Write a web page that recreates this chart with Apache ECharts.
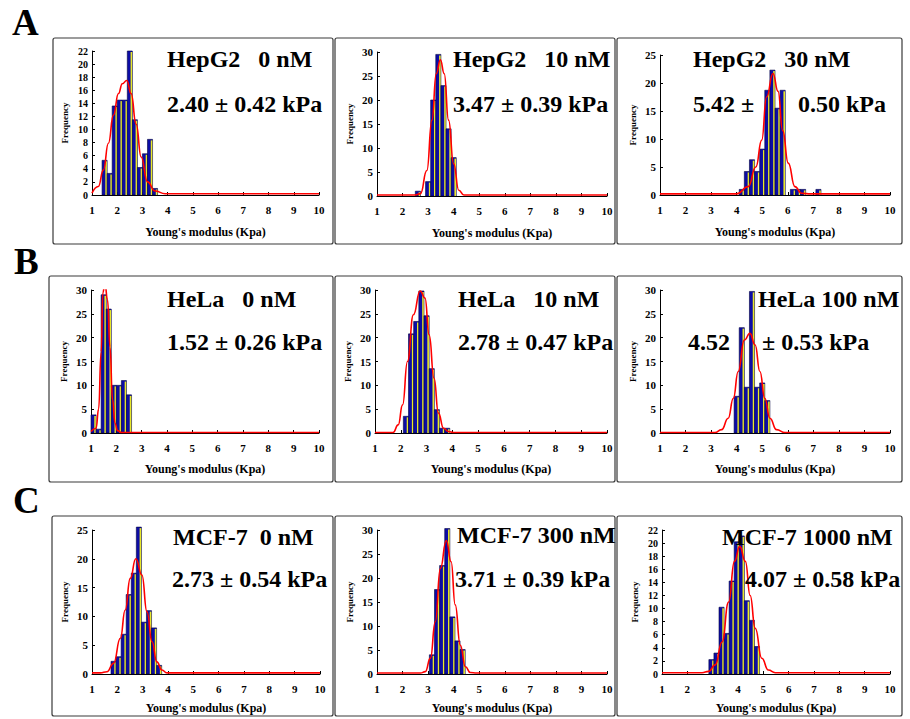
<!DOCTYPE html>
<html>
<head>
<meta charset="utf-8">
<script src="https://cdn.jsdelivr.net/npm/echarts@6/dist/echarts.min.js"></script>
<style>
  html, body { margin: 0; padding: 0; background: #fff; }
  #chart { width: 910px; height: 719px; }
</style>
</head>
<body>
<div id="chart"></div>
<script>
// ---------------- DATA ----------------
const panelTitles = ["HepG2   0 nM", "HepG2   10 nM", "HepG2   30 nM",
                     "HeLa   0 nM", "HeLa   10 nM", "HeLa 100 nM",
                     "MCF-7  0 nM", "MCF-7 300 nM", "MCF-7 1000 nM"];
const rowLetters = ["A", "B", "C"];
const xAxisTitle = "Young's modulus (Kpa)";
const yAxisTitle = "Frequency";
const yMax = [22, 30, 25, 30, 30, 30, 25, 30, 22];
const yStep = [2, 5, 5, 5, 5, 5, 5, 5, 2];

// HepG2 0 nM
const bins1 = [1.5, 1.7, 1.9, 2.1, 2.3, 2.5, 2.7, 2.9, 3.1, 3.3, 3.5];
const counts1 = [5.3, 3.3, 13.6, 14.5, 14.5, 22, 11.5, 4.2, 6.3, 8.5, 1];
const fitX1 = [1.0, 1.25, 1.45, 1.65, 1.85, 2.05, 2.2, 2.38, 2.55, 2.75, 2.95, 3.2, 3.5, 3.9, 4.5, 10];
const fitY1 = [0.3, 1.3, 3.8, 7.9, 12.2, 15.5, 17, 17.5, 15.5, 10.8, 5.8, 2.0, 0.6, 0.2, 0.2, 0.2];
// HepG2 10 nM
const bins2 = [2.6, 3.0, 3.2, 3.4, 3.6, 3.8, 4.0];
const counts2 = [1, 3, 20, 29.5, 23, 14, 8];
const fitX2 = [1, 2.5, 2.7, 2.95, 3.15, 3.32, 3.48, 3.63, 3.8, 4.0, 4.2, 4.4, 10];
const fitY2 = [0.2, 0.2, 0.5, 5.3, 15.8, 25.5, 28.4, 25.5, 15.8, 6.7, 1.2, 0.2, 0.2];
// HepG2 30 nM
const bins3 = [4.2, 4.4, 4.6, 4.8, 5.0, 5.2, 5.4, 5.6, 5.8, 6.2, 6.4, 6.6, 7.2];
const counts3 = [1, 4.2, 6.3, 4.2, 8.2, 18.7, 22.3, 15.5, 18.7, 1, 1, 1, 1];
const fitX3 = [1, 4.0, 4.45, 4.75, 4.98, 5.17, 5.42, 5.62, 5.8, 6.02, 6.28, 6.54, 6.9, 10];
const fitY3 = [0.2, 0.2, 1.5, 5, 9.8, 17.5, 21.7, 18.5, 11.5, 5.7, 1.5, 0.3, 0.2, 0.2];
// HeLa 0 nM
const bins4 = [1.1, 1.3, 1.5, 1.7, 1.9, 2.1, 2.3, 2.5];
const counts4 = [3.8, 0.8, 29, 26, 10, 10, 11, 8];
const fitX4 = [1.0, 1.2, 1.3, 1.4, 1.47, 1.55, 1.65, 1.75, 1.85, 1.95, 2.05, 2.2, 10];
const fitY4 = [0.3, 1, 5, 17, 29.5, 31.4, 28, 18, 7, 2, 0.5, 0.1, 0.1];
// HeLa 10 nM
const bins5 = [2.2, 2.4, 2.6, 2.8, 3.0, 3.2, 3.4, 3.6, 3.8];
const counts5 = [3.5, 20.8, 23.4, 29.8, 24.6, 13.5, 4.9, 1, 1];
const fitX5 = [1, 1.7, 1.9, 2.07, 2.26, 2.49, 2.75, 2.94, 3.1, 3.29, 3.46, 3.66, 3.85, 4.05, 10];
const fitY5 = [0.1, 0.1, 1.7, 5.9, 15, 24.8, 29.8, 28.3, 20.6, 11.5, 4.2, 1, 0.3, 0.1, 0.1];
// HeLa 100 nM
const bins6 = [4.0, 4.2, 4.4, 4.6, 4.8, 5.0, 5.2];
const counts6 = [7.7, 22.1, 9.6, 29.7, 9.6, 10.5, 6.8];
const fitX6 = [1, 3.15, 3.41, 3.67, 3.87, 4.06, 4.3, 4.52, 4.72, 4.91, 5.1, 5.3, 5.56, 5.89, 10];
const fitY6 = [0.1, 0.1, 0.7, 3.1, 7.3, 12.9, 19.5, 20.9, 18.5, 12.9, 7.3, 3.1, 0.7, 0.1, 0.1];
// MCF-7 0 nM
const bins7 = [1.85, 2.05, 2.25, 2.45, 2.65, 2.85, 3.05, 3.25, 3.45, 3.65];
const counts7 = [2.2, 3, 6.9, 13.8, 17.5, 25.5, 9, 11, 8, 1.5];
const fitX7 = [1, 1.33, 1.59, 1.85, 2.12, 2.31, 2.51, 2.73, 2.97, 3.17, 3.37, 3.56, 3.76, 3.96, 10];
const fitY7 = [0.2, 0.2, 0.4, 1.85, 6.2, 11.1, 16.6, 20, 17.2, 10.8, 5.6, 2.1, 0.7, 0.2, 0.2];
// MCF-7 300 nM
const bins8 = [3.15, 3.35, 3.55, 3.75, 3.95, 4.15, 4.35];
const counts8 = [4, 17.6, 22.6, 30.3, 11.9, 6.9, 5.1];
const fitX8 = [1, 2.7, 2.89, 3.09, 3.28, 3.48, 3.71, 3.9, 4.06, 4.26, 4.46, 4.65, 4.9, 10];
const fitY8 = [0.2, 0.2, 0.5, 3.3, 10.9, 22, 27.8, 23.4, 14.4, 6, 1.5, 0.3, 0.2, 0.2];
// MCF-7 1000 nM
const bins9 = [2.95, 3.15, 3.35, 3.55, 3.75, 3.95, 4.15, 4.35, 4.55, 4.75];
const counts9 = [2.2, 3.2, 10.2, 6.2, 14.2, 20.2, 21.1, 11.2, 8.2, 4.2];
const fitX9 = [1, 2.58, 2.84, 3.1, 3.37, 3.63, 3.86, 4.07, 4.29, 4.48, 4.68, 4.94, 5.2, 5.47, 10];
const fitY9 = [0.2, 0.2, 0.4, 1.4, 4.9, 11, 17.2, 19.5, 17.2, 12, 7, 2.4, 0.6, 0.2, 0.2];

const statText = [
  ["2.40 ± 0.42 kPa"], ["3.47 ± 0.39 kPa"], ["5.42 ±", "0.50 kPa"],
  ["1.52 ± 0.26 kPa"], ["2.78 ± 0.47 kPa"], ["4.52", "± 0.53 kPa"],
  ["2.73 ± 0.54 kPa"], ["3.71 ± 0.39 kPa"], ["4.07 ± 0.58 kPa"]
];

const allBins = [bins1, bins2, bins3, bins4, bins5, bins6, bins7, bins8, bins9];
const allCounts = [counts1, counts2, counts3, counts4, counts5, counts6, counts7, counts8, counts9];
const allFitX = [fitX1, fitX2, fitX3, fitX4, fitX5, fitX6, fitX7, fitX8, fitX9];
const allFitY = [fitY1, fitY2, fitY3, fitY4, fitY5, fitY6, fitY7, fitY8, fitY9];

// ---------------- LAYOUT ----------------
const FONT = 'Liberation Serif';
const gridPos = [
  {left: 92, top: 51, width: 227, height: 144},
  {left: 377, top: 52, width: 230, height: 144},
  {left: 660, top: 55, width: 230, height: 140},
  {left: 91, top: 290, width: 228, height: 143},
  {left: 375, top: 290, width: 232, height: 143},
  {left: 660, top: 290, width: 230, height: 143},
  {left: 92, top: 530, width: 228, height: 144},
  {left: 377, top: 530, width: 230, height: 144},
  {left: 662, top: 530, width: 228, height: 144}
];
const xNameGap = [31, 31, 31, 30, 30, 30, 28, 28, 28];
const boxPos = [
  [53, 38, 280, 206], [335, 38, 280, 206], [617, 38, 285, 206],
  [49, 276, 284, 206], [335, 276, 280, 206], [617, 276, 285, 206],
  [52, 516, 281, 200], [335, 516, 280, 200], [617, 516, 285, 200]
];
const titlePos = [
  [167, 59], [453, 59], [693, 59],
  [167, 299], [458, 299], [758, 299],
  [173, 537], [457, 535], [722, 537]
];
const statPos = [
  [[167, 104]], [[453, 104]], [[693, 104], [798, 104]],
  [[167, 342]], [[458, 342]], [[688, 342], [762, 342]],
  [[172, 579]], [[455, 579]], [[745, 579]]
];
const letterPos = [[12, 22], [14, 261], [13, 500]];

// ---------------- OPTION ----------------
const grids = [], xAxes = [], yAxes = [], series = [], graphics = [];

function renderBar(params, api) {
  const x = api.value(0), y = api.value(1);
  const p0 = api.coord([x - 0.1, y]);
  const p1 = api.coord([x + 0.1, 0]);
  const w = p1[0] - p0[0], h = p1[1] - p0[1];
  return {
    type: 'group',
    children: [
      {type: 'rect', shape: {x: p0[0], y: p0[1], width: w, height: h},
       style: {fill: '#0c0ca6', stroke: '#000040', lineWidth: 0.6}},
      {type: 'line', shape: {x1: p1[0] - 1, y1: p0[1] + 1, x2: p1[0] - 1, y2: p1[1]},
       style: {stroke: '#e8e82a', lineWidth: 1.6}}
    ]
  };
}

function txt(x, y, s, size) {
  return {type: 'text', x: x, y: y, z: 10,
    style: {text: s, fontFamily: FONT, fontWeight: 'bold', fontSize: size, fill: '#000', textVerticalAlign: 'middle'}};
}

for (let i = 0; i < 9; i++) {
  grids.push(Object.assign({containLabel: false}, gridPos[i]));
  xAxes.push({
    gridIndex: i, type: 'value', min: 1, max: 10, interval: 1,
    axisLine: {onZero: false, lineStyle: {color: '#000', width: 1}},
    axisTick: {inside: true, length: 3, lineStyle: {color: '#000'}},
    axisLabel: {fontFamily: FONT, fontWeight: 'bold', fontSize: 11, color: '#000', margin: 9},
    splitLine: {show: false},
    name: xAxisTitle, nameLocation: 'middle', nameGap: xNameGap[i],
    nameTextStyle: {fontFamily: FONT, fontWeight: 'bold', fontSize: 12, color: '#000'}
  });
  yAxes.push({
    gridIndex: i, type: 'value', min: 0, max: yMax[i], interval: yStep[i],
    axisLine: {show: true, lineStyle: {color: '#000', width: 1}},
    axisTick: {show: true, inside: true, length: 3, lineStyle: {color: '#000'}},
    axisLabel: {fontFamily: FONT, fontWeight: 'bold', fontSize: yStep[i] === 2 ? 10 : 11, color: '#000', margin: 4},
    splitLine: {show: false},
    name: yAxisTitle, nameLocation: 'middle', nameGap: 23, nameRotate: 90,
    nameTextStyle: {fontFamily: FONT, fontWeight: 'bold', fontSize: 9, color: '#000'}
  });
  series.push({
    type: 'custom', xAxisIndex: i, yAxisIndex: i, z: 2,
    renderItem: renderBar,
    data: allBins[i].map((b, k) => [b, allCounts[i][k]])
  });
  series.push({
    type: 'line', xAxisIndex: i, yAxisIndex: i, z: 3,
    smooth: true, smoothMonotone: 'x', symbol: 'none',
    lineStyle: {color: '#ff0000', width: 1.6},
    data: allFitX[i].map((x, k) => [x, allFitY[i][k]])
  });
  const b = boxPos[i];
  graphics.push({type: 'rect', z: 0, silent: true,
    shape: {x: b[0], y: b[1], width: b[2], height: b[3], r: 2},
    style: {fill: 'none', stroke: '#3a3a3a', lineWidth: 1.2}});
  graphics.push(txt(titlePos[i][0], titlePos[i][1], panelTitles[i], 24));
  statText[i].forEach((t, k) => {
    graphics.push(txt(statPos[i][k][0], statPos[i][k][1], t, 24));
  });
}
rowLetters.forEach((L, r) => {
  graphics.push(txt(letterPos[r][0], letterPos[r][1], L, 37));
});

const chart = echarts.init(document.getElementById('chart'), null, {renderer: 'svg', width: 910, height: 719});
chart.setOption({
  animation: false,
  backgroundColor: '#ffffff',
  grid: grids, xAxis: xAxes, yAxis: yAxes, series: series,
  graphic: graphics
});
</script>
</body>
</html>
